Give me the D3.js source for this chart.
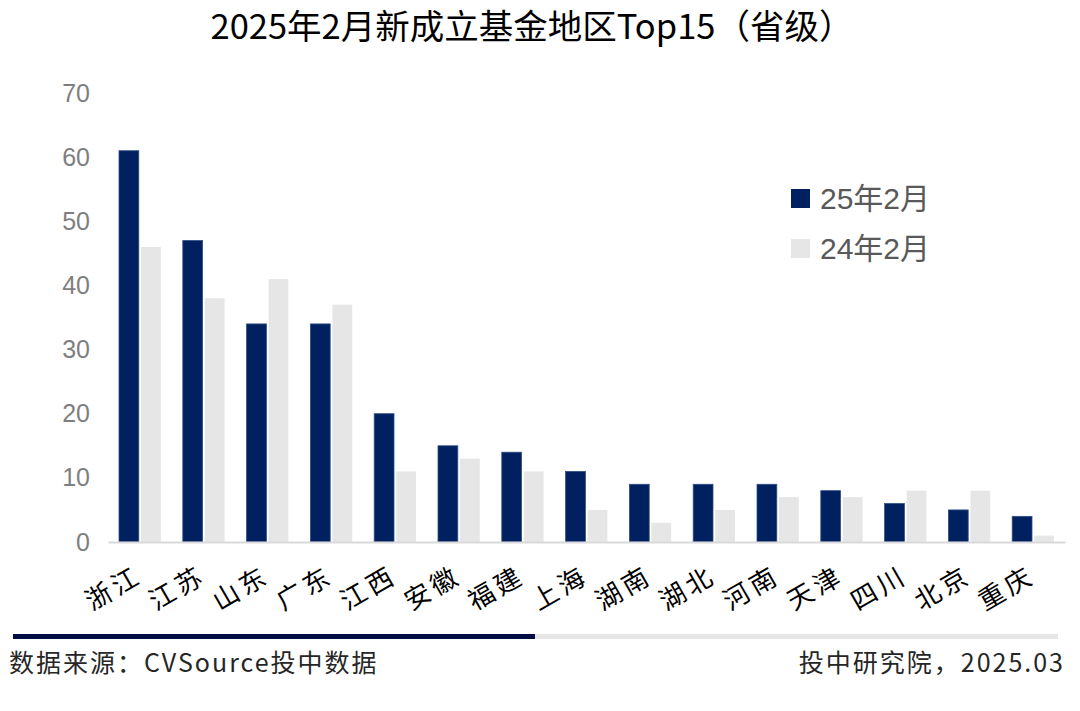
<!DOCTYPE html>
<html>
<head>
<meta charset="utf-8">
<script src="https://cdn.jsdelivr.net/npm/d3@7"></script>
<style>
  body { margin: 0; background: #fff; }
  svg { display: block; }
</style>
</head>
<body>
<svg width="1080" height="711"></svg>
<script>
// provinces, top 15
var regions = ["浙江", "江苏", "山东", "广东", "江西", "安徽", "福建", "上海", "湖南", "湖北", "河南", "天津", "四川", "北京", "重庆"];
var feb25 = [61, 47, 34, 34, 20, 15, 14, 11, 9, 9, 9, 8, 6, 5, 4];
var feb24 = [46, 38, 41, 37, 11, 13, 11, 5, 3, 5, 7, 7, 8, 8, 1];
var seriesNames = ["25年2月", "24年2月"];
var yTicks = [0, 10, 20, 30, 40, 50, 60, 70];

var colors = ["#002060", "#e6e6e6"];
var fontMix = "'Liberation Sans', 'Noto Sans CJK SC', sans-serif";
var fontCn = "'Noto Sans CJK SC', sans-serif";

var svg = d3.select("svg"),
    width = +svg.attr("width"),
    height = +svg.attr("height");

var plotLeft = 108, plotRight = 1065, plotTop = 93, plotBottom = 542;

var x = d3.scaleBand()
    .domain(regions)
    .range([plotLeft, plotRight]);

var x1 = d3.scaleBand()
    .domain([0, 1])
    .range([11, x.bandwidth() - 11])
    .paddingInner(0.1);

var y = d3.scaleLinear()
    .domain([0, 70])
    .range([plotBottom, plotTop]);

// title
svg.append("text")
    .attr("x", 532)
    .attr("y", 39)
    .attr("text-anchor", "middle")
    .style("font-family", fontCn)
    .style("font-size", "34.5px")
    .style("fill", "#000")
    .text("2025年2月新成立基金地区Top15（省级）");

// y axis labels
var yAxis = d3.axisLeft(y)
    .tickValues(yTicks)
    .tickSize(0)
    .tickPadding(0);

var yg = svg.append("g")
    .attr("transform", "translate(90,0)")
    .call(yAxis);
yg.select(".domain").remove();
yg.selectAll("text")
    .style("font-family", fontMix)
    .style("font-size", "25px")
    .style("fill", "#7f7f7f");

// bars
var rows = regions.map(function (r, i) {
    return { region: r, values: [feb25[i], feb24[i]] };
});

var groups = svg.append("g")
    .selectAll("g")
    .data(rows)
    .enter()
    .append("g")
    .attr("transform", function (d) { return "translate(" + x(d.region) + ",0)"; });

groups.selectAll("rect")
    .data(function (d) { return d.values.map(function (v, k) { return { k: k, v: v }; }); })
    .enter()
    .append("rect")
    .attr("x", function (d) { return x1(d.k); })
    .attr("y", function (d) { return y(d.v); })
    .attr("width", x1.bandwidth())
    .attr("height", function (d) { return plotBottom - y(d.v); })
    .attr("fill", function (d) { return colors[d.k]; })
    .attr("stroke", function (d) { return d.k === 0 ? "#2f4f85" : "none"; })
    .attr("stroke-width", 0.8);

// x axis
var xAxis = d3.axisBottom(x).tickSize(0).tickPadding(0);
var xg = svg.append("g")
    .attr("transform", "translate(0," + plotBottom + ")")
    .call(xAxis);
xg.select(".domain")
    .attr("stroke", "#d9d9d9")
    .attr("stroke-width", 2);
xg.selectAll("text")
    .attr("text-anchor", "end")
    .attr("dy", 0)
    .attr("transform", "translate(4,39) rotate(-30)")
    .style("font-family", fontCn)
    .style("font-size", "26px")
    .style("letter-spacing", "4px")
    .style("fill", "#000");

// legend
var legend = svg.append("g")
    .selectAll("g")
    .data(seriesNames)
    .enter()
    .append("g")
    .attr("transform", function (d, i) { return "translate(791," + (189 + i * 50) + ")"; });

legend.append("rect")
    .attr("width", 19)
    .attr("height", 19)
    .attr("fill", function (d, i) { return colors[i]; });

legend.append("text")
    .attr("x", 29)
    .attr("y", 20)
    .style("font-family", fontMix)
    .style("font-size", "30px")
    .style("fill", "#595959")
    .text(function (d) { return d; });

// footer band
svg.append("rect")
    .attr("x", 13).attr("y", 634)
    .attr("width", 522).attr("height", 5)
    .attr("fill", "#000c44");
svg.append("rect")
    .attr("x", 535).attr("y", 634)
    .attr("width", 523).attr("height", 5)
    .attr("fill", "#e6e6e6");

svg.append("text")
    .attr("x", 9)
    .attr("y", 672)
    .style("font-family", fontCn)
    .style("font-size", "25px")
    .style("letter-spacing", "2px")
    .style("fill", "#262626")
    .text("数据来源：CVSource投中数据");

svg.append("text")
    .attr("x", 1065)
    .attr("y", 672)
    .attr("text-anchor", "end")
    .style("font-family", fontCn)
    .style("font-size", "25px")
    .style("letter-spacing", "2px")
    .style("fill", "#262626")
    .text("投中研究院，2025.03");
</script>
</body>
</html>
